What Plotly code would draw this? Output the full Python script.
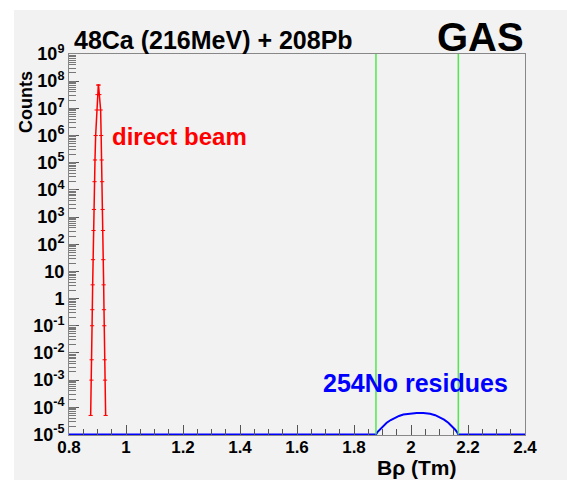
import plotly.graph_objects as go

# ---- data ----
beam_x = [0.8760, 0.8787, 0.8795, 0.8810, 0.8818, 0.8830, 0.8842, 0.8860, 0.8877, 0.8895,
          0.8912, 0.8935, 0.8971, 0.9000, 0.9029, 0.9035, 0.9065, 0.9110, 0.9128, 0.9146,
          0.9163, 0.9180, 0.9192, 0.9204, 0.9216, 0.9228, 0.9238, 0.9251, 0.9265, 0.9286]
beam_y = [5.0e-5, 1.0e-3, 5.6e-3, 0.1, 0.39, 3.2, 27, 320, 1.9e3, 2.0e4,
          1.26e5, 1.0e6, 8.7e6, 3.2e7, 7.2e7, 7.2e7, 3.2e7, 8.7e6, 1.0e6, 1.26e5,
          2.0e4, 1.9e3, 320, 27, 3.2, 0.39, 0.1, 5.6e-3, 1.0e-3, 5.0e-5]

res_x = [0.80, 1.8772, 1.8830, 1.8912, 1.9030, 1.9147, 1.9290, 1.9439, 1.9580, 1.9730, 1.9960,
         2.0200, 2.0430, 2.0667, 2.0850, 2.1018, 2.1160, 2.1309, 2.1430, 2.1544, 2.1610, 2.1660, 2.40]
res_y = [1e-5, 1e-5, 1.25e-5, 1.53e-5, 2.1e-5, 2.69e-5, 3.4e-5, 4.1e-5, 4.8e-5, 5.4e-5, 5.95e-5,
         6.2e-5, 6.1e-5, 5.75e-5, 5.1e-5, 4.3e-5, 3.5e-5, 2.69e-5, 2.05e-5, 1.53e-5, 1.25e-5, 1e-5, 1e-5]

gate_x = [1.877, 2.166]
gate_y = [1e-5, 1e9]

ytick_vals = [1e-5, 1e-4, 1e-3, 1e-2, 1e-1, 1, 10, 1e2, 1e3, 1e4, 1e5, 1e6, 1e7, 1e8, 1e9]
ytick_text = ["10<sup>-5</sup>", "10<sup>-4</sup>", "10<sup>-3</sup>", "10<sup>-2</sup>", "10<sup>-1</sup>",
              "1", "10", "10<sup>2</sup>", "10<sup>3</sup>", "10<sup>4</sup>", "10<sup>5</sup>",
              "10<sup>6</sup>", "10<sup>7</sup>", "10<sup>8</sup>", "10<sup>9</sup>"]

# ---- layout helpers (pixel -> paper) ----
L, R, T, B = 69, 525, 54, 435
W, H = 567, 480
Y_RANGE = [-5.02, 9]


def px(x):
    return (x - L) / (R - L)


def py(y):
    return (B - y) / (B - T)


FONT = "Liberation Sans, Arial, Helvetica, sans-serif"

fig = go.Figure()

# gate lines live on the overlay axis (which carries the minor log ticks)
for gx in gate_x:
    fig.add_trace(go.Scatter(x=[gx, gx], y=gate_y, mode="lines", yaxis="y2",
                             line=dict(color="#4fe84f", width=1.5), hoverinfo="skip"))

fig.add_trace(go.Scatter(x=res_x, y=res_y, mode="lines",
                         line=dict(color="#0000ff", width=2)))

fig.add_trace(go.Scatter(x=beam_x, y=beam_y, mode="lines+markers",
                         line=dict(color="#ff0000", width=1.5),
                         marker=dict(symbol="line-ew", size=3, line=dict(color="#ff0000", width=1))))

axis_common = dict(
    showgrid=False, zeroline=False, showline=True, linecolor="#888888", linewidth=1,
    mirror=True, ticks="inside", ticklen=10, tickcolor="#555555", tickwidth=1,
)

fig.update_layout(
    xaxis=dict(
        range=[0.8, 2.4], tick0=0.8, dtick=0.2, ticklabelstandoff=-3,
        tickfont=dict(family=FONT, size=17, color="black", weight="bold"),
        minor=dict(dtick=0.05, tick0=0.8, ticks="inside", ticklen=6, tickcolor="#555555"),
        **axis_common,
    ),
    yaxis=dict(
        type="log", range=Y_RANGE,
        tickmode="array", tickvals=ytick_vals, ticktext=ytick_text,
        tickfont=dict(family=FONT, size=18, color="black", weight="bold"),
        **axis_common,
    ),
    yaxis2=dict(
        type="log", range=Y_RANGE, overlaying="y", side="left", anchor="x",
        dtick="D1", showticklabels=False, ticks="inside", ticklen=7,
        tickcolor="#777777", tickwidth=1, showgrid=False, zeroline=False, showline=False,
    ),
)

ann = [
    dict(text="<b>48Ca (216MeV) + 208Pb</b>", x=px(72), y=py(40), xanchor="left", yanchor="middle",
         font=dict(size=25, color="black")),
    dict(text="<b>GAS</b>", x=px(526), y=py(37), xanchor="right", yanchor="middle",
         font=dict(size=40, color="black")),
    dict(text="<b>direct beam</b>", x=px(110), y=py(136), xanchor="left", yanchor="middle",
         font=dict(size=24, color="#ff0000")),
    dict(text="<b>254No residues</b>", x=px(321), y=py(383), xanchor="left", yanchor="middle",
         font=dict(size=25, color="#0000ff")),
    dict(text="<b>Counts</b>", x=px(26), y=py(102), xanchor="center", yanchor="middle", textangle=-90,
         font=dict(size=18, color="black")),
    dict(text="<b>Bρ (Tm)</b>", x=px(416), y=py(467), xanchor="center", yanchor="middle",
         font=dict(size=21, color="black")),
]
for a in ann:
    a.update(xref="paper", yref="paper", showarrow=False)
    a["font"]["family"] = FONT

fig.update_layout(
    width=W, height=H,
    margin=dict(l=L, r=W - R, t=T, b=H - B, pad=0),
    paper_bgcolor="white", plot_bgcolor="#f2f2f2",
    showlegend=False,
    annotations=ann,
    font=dict(family=FONT),
    shapes=[dict(type="rect", xref="paper", yref="paper", layer="below",
                 x0=px(14), x1=px(567 + 5), y0=py(480 + 5), y1=py(10),
                 fillcolor="#f2f2f2", line=dict(width=0))],
)

fig.write_html("out.html", config={"displayModeBar": False},
               post_script="document.body.style.margin='0px';document.body.style.padding='0px';")
